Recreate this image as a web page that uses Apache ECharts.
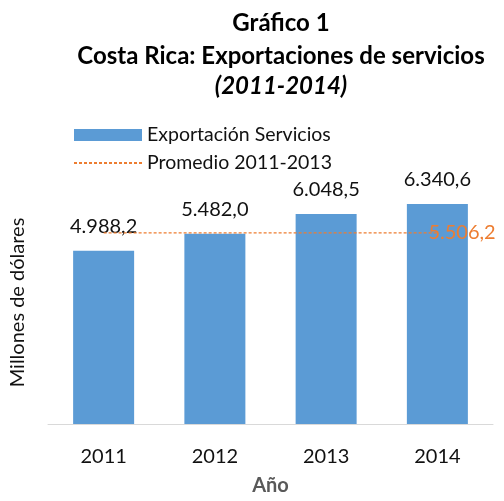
<!DOCTYPE html>
<html>
<head>
<meta charset="utf-8">
<script src="https://cdn.jsdelivr.net/npm/echarts@6/dist/echarts.min.js"></script>
<style>
  html, body { margin: 0; padding: 0; background: #fff; }
  #chart { width: 504px; height: 501px; }
</style>
</head>
<body>
<div id="chart"></div>
<script>
// datos del gráfico
var anios = ["2011", "2012", "2013", "2014"];
var exportaciones = [4988.2, 5482.0, 6048.5, 6340.6];
var promedio = 5506.2; // promedio 2011-2013

var fontFam = "Lato";

function fmt(v) {
  // 4988.2 -> "4.988,2"
  var parts = v.toFixed(1).split(".");
  var ent = parts[0].replace(/\B(?=(\d{3})+(?!\d))/g, ".");
  return ent + "," + parts[1];
}

var chart = echarts.init(document.getElementById("chart"));

var lineaProm = anios.map(function() { return promedio; });

chart.setOption({
  animation: false,
  textStyle: { fontFamily: fontFam },
  graphic: [
    {
      type: "text", x: 281, y: 23,
      style: { text: "Gráfico 1", font: "bold 24px " + fontFam, fill: "#000", textAlign: "center", textVerticalAlign: "middle" }
    },
    {
      type: "text", x: 281, y: 56,
      style: { text: "Costa Rica: Exportaciones de servicios", font: "bold 24px " + fontFam, fill: "#000", textAlign: "center", textVerticalAlign: "middle" }
    },
    {
      type: "text", x: 281, y: 86,
      style: { text: "(2011-2014)", font: "italic bold 24px " + fontFam, fill: "#000", textAlign: "center", textVerticalAlign: "middle" }
    }
  ],
  legend: {
    orient: "vertical",
    left: 68,
    top: 119,
    itemWidth: 68,
    itemHeight: 12,
    itemGap: 6,
    textStyle: { fontSize: 19.5, color: "#111", lineHeight: 22, fontFamily: fontFam },
    data: [
      { name: "Exportación Servicios", icon: "rect" },
      { name: "Promedio 2011-2013", itemStyle: { opacity: 0 } }
    ]
  },
  grid: {
    left: 38,
    right: 11,
    top: 181,
    bottom: 65
  },
  xAxis: {
    type: "category",
    data: anios,
    name: "Año",
    nameLocation: "middle",
    nameGap: 52,
    nameTextStyle: { fontSize: 20, fontWeight: "bold", color: "#595959" },
    axisLine: { lineStyle: { color: "#d9d9d9", width: 1 } },
    axisTick: { show: false },
    axisLabel: { fontSize: 20, color: "#111", margin: 23 }
  },
  yAxis: {
    type: "value",
    min: 0,
    max: 7000,
    interval: 1000,
    name: "Millones de dólares",
    nameLocation: "middle",
    nameGap: 20,
    nameTextStyle: { fontSize: 20, color: "#111" },
    axisLine: { show: false },
    axisTick: { show: false },
    axisLabel: { show: false },
    splitLine: { show: false }
  },
  series: [
    {
      name: "Exportación Servicios",
      type: "bar",
      data: exportaciones,
      barWidth: 61,
      itemStyle: { color: "#5B9BD5" },
      label: {
        show: true,
        position: "top",
        distance: 14,
        fontSize: 20,
        color: "#111",
        formatter: function(p) { return fmt(p.value); }
      }
    },
    {
      name: "Promedio 2011-2013",
      type: "line",
      data: lineaProm,
      symbol: "none",
      z: 5,
      lineStyle: { color: "#ED7D31", width: 1.2, type: [3, 2] },
      itemStyle: { color: "#ED7D31" },
      endLabel: {
        show: true,
        distance: -9,
        fontSize: 20,
        color: "#ED7D31",
        formatter: function(p) { return fmt(p.value); }
      }
    }
  ]
});
</script>
</body>
</html>
